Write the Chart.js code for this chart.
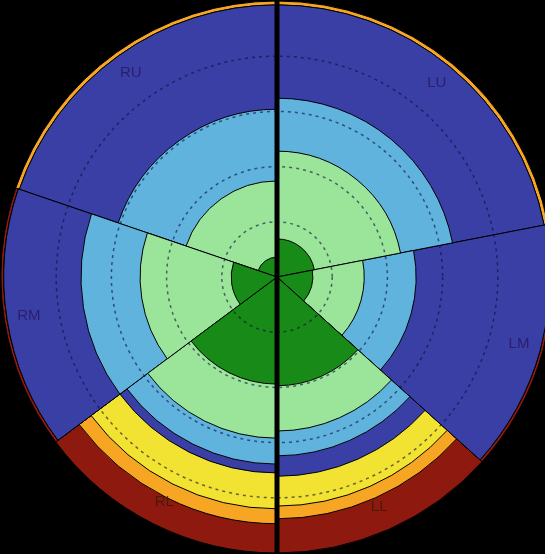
<!DOCTYPE html>
<html>
<head>
<meta charset="utf-8">
<script src="https://cdn.jsdelivr.net/npm/chart.js@4/dist/chart.umd.min.js"></script>
<style>
  html, body { margin: 0; padding: 0; background: #000; overflow: hidden; }
  #wrap { width: 545px; height: 554px; overflow: hidden; }
</style>
</head>
<body>
<div id="wrap"><canvas id="lung-chart" width="560" height="560"></canvas></div>
<script>
// Sectors, clockwise from the upper left one
const sectors = ['RU', 'LU', 'LM', 'LL', 'RL', 'RM'];
const sectorAngles = [71.2, 79, 53, 48, 53.3, 55.5];

// Band thickness per sector, from the centre outwards
const darkGreen  = [0.36, 0.69, 0.65, 1.97, 1.94, 0.83];
const lightGreen = [1.38, 1.59, 0.93, 0.82, 0.98, 1.65];
const lightBlue  = [1.30, 0.96, 0.94, 0.45, 0.47, 1.07];
const darkBlue   = [1.89, 1.69, 2.43, 0.37, 0.16, 1.40];
const yellow     = [0.00, 0.00, 0.00, 0.54, 0.65, 0.00];
const orange     = [0.07, 0.07, 0.00, 0.23, 0.27, 0.00];
const darkRed    = [0.00, 0.00, 0.05, 0.62, 0.53, 0.05];

const bands = [
  { name: 'darkGreen', values: darkGreen, color: '#178a17' },
  { name: 'lightGreen', values: lightGreen, color: '#9be59b' },
  { name: 'lightBlue', values: lightBlue, color: '#5fb3dc' },
  { name: 'darkBlue', values: darkBlue, color: '#3a3fa6' },
  { name: 'yellow', values: yellow, color: '#f2e232' },
  { name: 'orange', values: orange, color: '#f6a623' },
  { name: 'darkRed', values: darkRed, color: '#8e1a0f' }
];

// each band is drawn as a polar area up to its outer edge, inner ones on top
let running = sectors.map(() => 0);
const datasets = bands.map((band) => {
  running = running.map((v, i) => v + band.values[i]);
  return {
    label: band.name,
    data: running.slice(),
    backgroundColor: band.color,
    borderColor: '#000',
    borderWidth: 1,
    angle: (ctx) => sectorAngles[ctx.dataIndex]
  };
});

// thick vertical line and sector names
const overlay = {
  id: 'overlay',
  afterDraw(chart) {
    const ctx = chart.ctx;
    const scale = chart.scales.r;
    const cx = scale.xCenter, cy = scale.yCenter, R = scale.drawingArea;
    ctx.save();
    ctx.strokeStyle = '#000';
    ctx.lineWidth = 5;
    ctx.beginPath();
    ctx.moveTo(cx, cy - R);
    ctx.lineTo(cx, cy + R);
    ctx.stroke();

    const arcs = chart.getDatasetMeta(chart.data.datasets.length - 1).data;
    const rl = scale.getDistanceFromCenterForValue(4.55);
    ctx.font = '15px "Liberation Sans", Arial, sans-serif';
    ctx.textAlign = 'center';
    ctx.textBaseline = 'middle';
    arcs.forEach((arc, i) => {
      const mid = (arc.startAngle + arc.endAngle) / 2;
      const onBlue = darkRed[i] < 0.2;
      ctx.fillStyle = onBlue ? 'rgba(40, 25, 100, 0.85)' : 'rgba(60, 25, 5, 0.8)';
      ctx.fillText(sectors[i], cx + rl * Math.cos(mid), cy + rl * Math.sin(mid));
    });
    ctx.restore();
  }
};

new Chart(document.getElementById('lung-chart'), {
  type: 'polarArea',
  data: {
    labels: sectors,
    datasets: datasets
  },
  options: {
    responsive: false,
    animation: false,
    layout: { padding: { left: 1, top: 1, right: 7, bottom: 7 } },
    plugins: {
      legend: { display: false },
      tooltip: { enabled: false }
    },
    scales: {
      r: {
        min: 0,
        max: 5,
        startAngle: -71.2,
        ticks: { display: false, stepSize: 1 },
        pointLabels: { display: false },
        angleLines: { display: false },
        grid: {
          circular: true,
          z: 1,
          lineWidth: 1.5,
          color: (ctx) => ctx.tick && ctx.tick.value < 5 ? 'rgba(15, 10, 60, 0.6)' : 'rgba(0,0,0,0)'
        },
        border: { dash: [3, 4] }
      }
    }
  },
  plugins: [overlay]
});
</script>
</body>
</html>
